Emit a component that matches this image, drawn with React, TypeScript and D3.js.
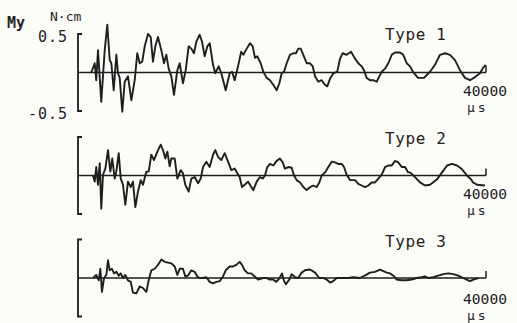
import React from "react";
import * as d3 from "d3";

// Time axis (μs) and moment My (N·cm)
const timeDomain = [0, 40000];
const valueDomain = [-0.5, 0.5];
const panelLabels = ["Type 1", "Type 2", "Type 3"];
const yTickLabels = ["0.5", "-0.5"];
const endLabel = "40000";
const unitLabel = "μs";

const t1 = [1300,1640,1790,1960,2280,2620,2870,3110,3270,3500,3760,3920,4090,4340,4580,4900,5230,5560,5810,6050,6300,6540,6860,7130,7350,7580,7840,8170,8430,8660,8890,9150,9410,9740,9970,10290,10560,10850,11110,11370,11600,11930,12160,12420,12680,12910,13240,13460,13790,14050,14480,14870,15100,15360,15690,16000,16210,16540,16860,17130,17350,17580,17910,18170,18500,18820,19150,19480,19740,19970,20200,20460,20780,21110,21370,21600,21830,22090,22420,22750,23010,23240,23560,23890,24220,24440,24710,25030,25420,25690,25950,26340,26770,27160,27480,27810,28040,28300,28630,28950,29280,29540,29780,30100,30420,30760,31080,31570,31890,32230,32550,32840,33330,33920,34510,35000,35490,35980,36470,36960,37450,37940,38430,38920,39410,39710,39970];
const v1 = [0.00,0.12,-0.10,0.29,-0.38,0.29,0.62,0.16,0.12,-0.23,0.23,-0.01,-0.07,-0.51,-0.12,-0.05,-0.36,-0.10,0.25,0.12,0.14,0.34,0.50,0.46,0.14,0.34,0.46,0.29,0.12,0.23,0.05,-0.05,-0.29,0.03,0.12,-0.14,0.03,0.34,0.31,0.25,0.40,0.49,0.40,0.21,0.34,0.38,0.10,-0.01,0.08,-0.01,-0.23,-0.01,0.01,-0.10,0.08,0.27,0.23,0.31,0.38,0.34,0.19,0.21,0.12,0.01,-0.07,-0.10,-0.16,-0.23,-0.14,-0.01,0.01,0.12,0.23,0.25,0.25,0.31,0.31,0.23,0.12,0.12,0.08,-0.05,-0.12,-0.10,-0.16,-0.18,-0.08,-0.01,0.01,0.18,0.25,0.23,0.27,0.18,0.12,0.08,0.03,-0.07,-0.10,-0.10,-0.12,-0.05,0.01,0.05,0.12,0.23,0.26,0.26,0.23,0.12,0.08,0.01,-0.07,-0.07,0.01,0.10,0.23,0.25,0.23,0.16,0.03,-0.07,-0.10,-0.06,-0.01,0.06,0.10];

const t2 = [1470,1640,1790,1960,2130,2280,2450,2680,2940,3170,3360,3600,3760,3990,4190,4410,4640,4900,5170,5390,5620,5880,6150,6370,6700,6930,7190,7450,7780,8110,8330,8560,8760,8990,9150,9480,9740,10070,10290,10520,10850,11110,11440,11770,12030,12260,12580,12910,13240,13460,13730,14050,14380,14710,15030,15360,15620,15850,16080,16340,16670,16860,17190,17520,17840,18110,18330,18560,18820,19150,19480,19800,20070,20290,20620,20950,21180,21440,21770,22090,22420,22750,23070,23400,23660,23890,24220,24540,24870,25200,25520,25850,26080,26340,26670,27160,27480,27810,28140,28460,28790,29120,29440,29780,30100,30420,30760,31080,31400,31740,32060,32380,32550,33040,33530,34020,34510,35200,35690,36180,36670,37160,37650,38140,38530,38730,39120,39900];
const v2 = [0.00,-0.08,0.11,-0.12,0.16,-0.43,0.01,0.09,0.33,0.05,0.22,-0.04,0.05,0.29,-0.04,-0.12,-0.38,-0.08,-0.15,-0.08,-0.41,-0.21,-0.06,-0.12,0.05,0.05,0.27,0.20,0.31,0.40,0.33,0.22,0.31,0.12,0.22,0.22,-0.04,0.07,0.03,-0.12,-0.21,-0.04,-0.02,-0.10,-0.04,0.11,0.18,0.11,0.27,0.33,0.24,0.20,0.29,0.18,0.07,0.09,0.03,-0.02,-0.15,-0.12,-0.08,-0.12,-0.19,-0.08,-0.02,-0.04,0.00,0.11,0.15,0.13,0.19,0.22,0.17,0.09,0.11,0.10,0.00,-0.06,-0.09,-0.15,-0.19,-0.15,-0.13,-0.15,-0.09,0.00,0.04,0.11,0.18,0.17,0.15,0.15,0.11,0.01,-0.06,-0.06,-0.11,-0.13,-0.15,-0.13,-0.09,-0.09,-0.04,0.01,0.11,0.13,0.13,0.19,0.17,0.11,0.11,0.04,0.04,-0.02,-0.09,-0.13,-0.12,-0.05,0.04,0.13,0.15,0.13,0.08,0.00,-0.05,-0.09,-0.12,-0.13];

const t3 = [1470,1790,2030,2190,2350,2550,2780,2940,3110,3330,3530,3760,3990,4190,4410,4640,4900,5170,5390,5720,6050,6370,6700,6930,7190,7520,7840,8170,8500,8820,9150,9480,9740,9970,10290,10520,10780,11110,11440,11700,11930,12260,12580,12910,13240,13560,13890,14220,14480,14870,15200,15520,15850,16080,16340,16670,16990,17320,17650,18140,18460,18790,19120,19440,19770,20000,20200,20390,20720,20950,21280,21600,21930,22250,22750,23240,23660,24050,24380,24710,25030,25360,25690,26010,26500,26990,27650,28240,28630,29120,29610,29940,30270,30590,30920,31240,31730,32220,32710,33200,33690,34020,34350,34830,35320,35810,36300,36790,37280,37770,38110,38430,38760,39250];
const v3 = [0.00,0.04,-0.03,0.12,-0.18,0.00,0.04,0.23,0.10,0.12,0.06,0.08,0.03,0.06,0.00,0.04,-0.03,-0.05,-0.19,-0.20,-0.11,-0.13,-0.18,-0.03,0.10,0.12,0.17,0.24,0.21,0.20,0.19,0.15,0.04,0.12,0.12,0.02,0.03,0.10,0.08,0.02,0.00,0.00,0.01,-0.05,-0.07,-0.05,-0.04,0.02,0.10,0.15,0.15,0.17,0.21,0.17,0.10,0.06,0.06,0.02,-0.02,0.00,0.00,-0.02,-0.02,-0.05,0.00,0.06,-0.04,-0.08,-0.02,0.05,0.01,0.00,0.07,0.10,0.11,0.07,0.00,0.00,-0.02,-0.06,-0.04,0.00,0.00,0.00,0.00,0.01,0.00,0.04,0.07,0.08,0.11,0.09,0.07,0.06,0.03,-0.02,-0.03,-0.03,-0.02,0.00,0.01,0.02,0.00,0.01,0.03,0.05,0.06,0.05,0.03,0.00,-0.02,-0.04,-0.02,0.00];

const seriesTimes = [t1, t2, t3];
const seriesValues = [v1, v2, v3];

const W = 517;
const H = 323;
const X0 = 78;
const X1 = 486;
const zeros = [72.5, 175.5, 278];
const half = 38.5;
const ink = "#1e1e1e";
const mono = "'DejaVu Sans Mono', 'Liberation Mono', monospace";

export default function App() {
  const x = d3.scaleLinear().domain(timeDomain).range([X0, X1]);
  return (
    <svg width={W} height={H} style={{ position: "absolute", left: 0, top: 0, background: "#fbfbf8" }}>
      <rect x={0} y={0} width={W} height={H} fill="#fbfbf8" />
      <text x={7} y={28} fontFamily={mono} fontSize={15} fontWeight="bold" fill={ink}>My</text>
      <text x={50} y={21} fontFamily={mono} fontSize={13} fill={ink}>N·cm</text>
      {zeros.map((z, i) => {
        const y = d3.scaleLinear().domain(valueDomain).range([z + half, z - half]);
        const line = d3
          .line<number>()
          .x((_, k) => x(seriesTimes[i][k]))
          .y((d) => y(d));
        const top = y(valueDomain[1]);
        const bot = y(valueDomain[0]);
        const labelBase = [40, 144, 247][i];
        const endBase = [96, 199, 304][i];
        return (
          <g key={i}>
            <path
              d={`M${X0 + 4},${top}H${X0}V${bot}H${X0 + 4}`}
              fill="none"
              stroke={ink}
              strokeWidth={1.8}
            />
            <line x1={X0} x2={X1} y1={y(0)} y2={y(0)} stroke={ink} strokeWidth={1.5} />
            <line x1={X1} x2={X1} y1={y(0)} y2={y(0) - 7} stroke={ink} strokeWidth={1.5} />
            <path d={line(seriesValues[i]) || ""} fill="none" stroke={ink} strokeWidth={1.9} strokeLinejoin="round" />
            {i === 0 && (
              <>
                <text x={68} y={top + 8} textAnchor="end" fontFamily={mono} fontSize={15} fill={ink} letterSpacing={1}>
                  {yTickLabels[0]}
                </text>
                <text x={68} y={bot + 8} textAnchor="end" fontFamily={mono} fontSize={15} fill={ink} letterSpacing={1}>
                  {yTickLabels[1]}
                </text>
              </>
            )}
            <text x={385} y={labelBase} fontFamily={mono} fontSize={16} fill={ink} letterSpacing={0.6}>
              {panelLabels[i]}
            </text>
            <text x={463} y={endBase} fontFamily={mono} fontSize={14} fill={ink} textLength={44} lengthAdjust="spacingAndGlyphs">
              {endLabel}
            </text>
            <text x={467} y={endBase + 16} fontFamily={mono} fontSize={13} fill={ink} letterSpacing={3}>
              {unitLabel}
            </text>
          </g>
        );
      })}
    </svg>
  );
}
